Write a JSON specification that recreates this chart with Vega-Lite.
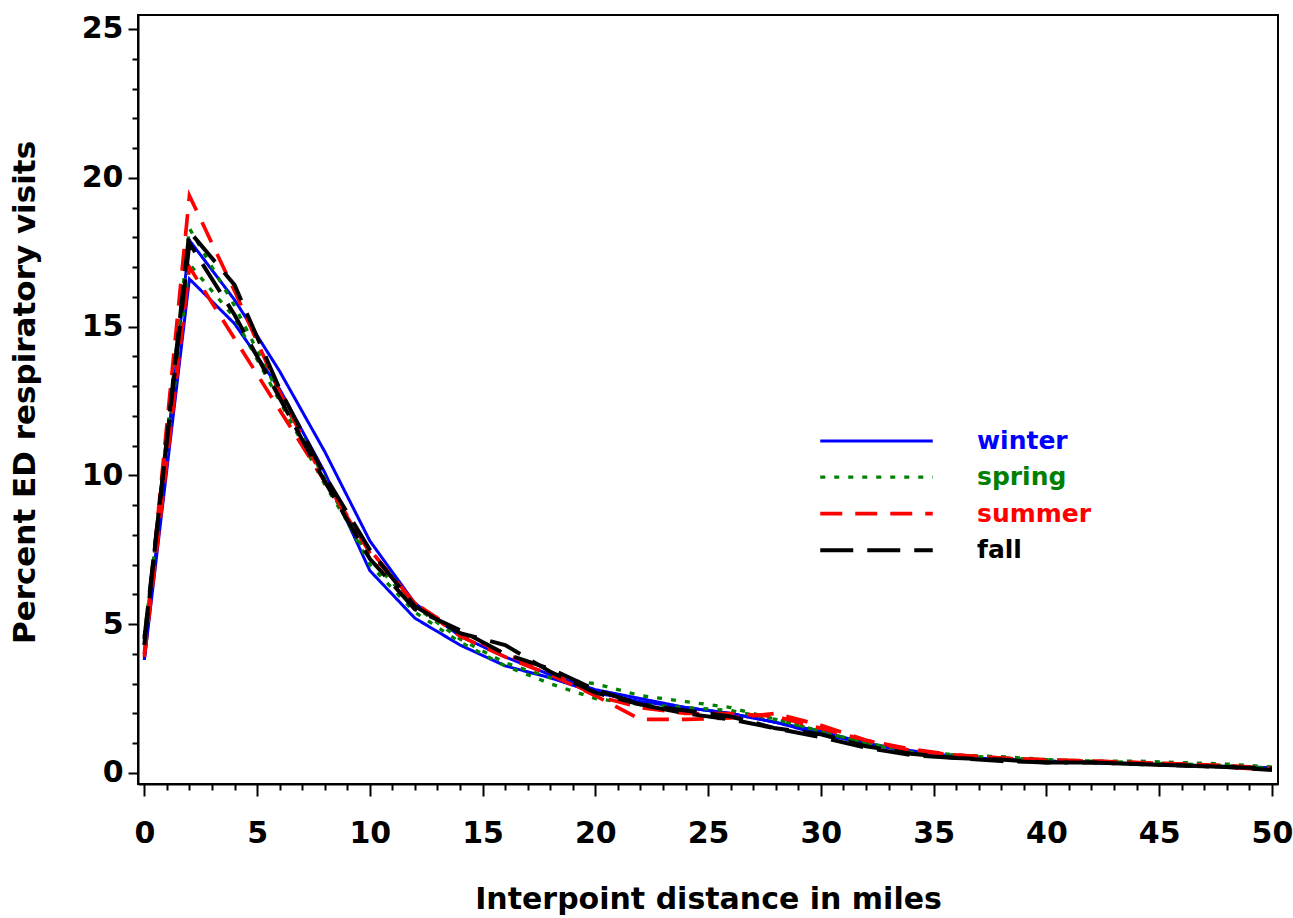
{
  "$schema": "https://vega.github.io/schema/vega-lite/v6.json",
  "width": 1140,
  "height": 769,
  "autosize": {"type": "none"},
  "padding": {"left": 138, "top": 15, "right": 15, "bottom": 134},
  "background": "white",
  "config": {
    "font": "DejaVu Sans",
    "view": {"stroke": "black", "strokeWidth": 2},
    "axis": {"grid": false}
  },
  "data": {"values": [
    {"season":"winter","yr":"A","d":0,"v":3.8},{"season":"winter","yr":"A","d":2,"v":17.9},{"season":"winter","yr":"A","d":4,"v":15.9},{"season":"winter","yr":"A","d":6,"v":13.5},{"season":"winter","yr":"A","d":8,"v":10.8},{"season":"winter","yr":"A","d":10,"v":7.8},{"season":"winter","yr":"A","d":12,"v":5.7},{"season":"winter","yr":"A","d":14,"v":4.6},{"season":"winter","yr":"A","d":16,"v":3.9},{"season":"winter","yr":"A","d":18,"v":3.3},{"season":"winter","yr":"A","d":20,"v":2.8},{"season":"winter","yr":"A","d":22,"v":2.5},{"season":"winter","yr":"A","d":24,"v":2.2},{"season":"winter","yr":"A","d":26,"v":2.0},{"season":"winter","yr":"A","d":28,"v":1.7},{"season":"winter","yr":"A","d":30,"v":1.3},{"season":"winter","yr":"A","d":32,"v":1.0},{"season":"winter","yr":"A","d":34,"v":0.7},{"season":"winter","yr":"A","d":36,"v":0.55},{"season":"winter","yr":"A","d":38,"v":0.45},{"season":"winter","yr":"A","d":40,"v":0.4},{"season":"winter","yr":"A","d":42,"v":0.35},{"season":"winter","yr":"A","d":44,"v":0.3},{"season":"winter","yr":"A","d":46,"v":0.28},{"season":"winter","yr":"A","d":48,"v":0.22},{"season":"winter","yr":"A","d":50,"v":0.18},
    {"season":"winter","yr":"B","d":0,"v":3.8},{"season":"winter","yr":"B","d":2,"v":16.6},{"season":"winter","yr":"B","d":4,"v":15.1},{"season":"winter","yr":"B","d":6,"v":12.9},{"season":"winter","yr":"B","d":8,"v":10.1},{"season":"winter","yr":"B","d":10,"v":6.8},{"season":"winter","yr":"B","d":12,"v":5.2},{"season":"winter","yr":"B","d":14,"v":4.3},{"season":"winter","yr":"B","d":16,"v":3.6},{"season":"winter","yr":"B","d":18,"v":3.2},{"season":"winter","yr":"B","d":20,"v":2.7},{"season":"winter","yr":"B","d":22,"v":2.4},{"season":"winter","yr":"B","d":24,"v":2.2},{"season":"winter","yr":"B","d":26,"v":2.0},{"season":"winter","yr":"B","d":28,"v":1.7},{"season":"winter","yr":"B","d":30,"v":1.4},{"season":"winter","yr":"B","d":32,"v":1.0},{"season":"winter","yr":"B","d":34,"v":0.75},{"season":"winter","yr":"B","d":36,"v":0.55},{"season":"winter","yr":"B","d":38,"v":0.45},{"season":"winter","yr":"B","d":40,"v":0.4},{"season":"winter","yr":"B","d":42,"v":0.35},{"season":"winter","yr":"B","d":44,"v":0.32},{"season":"winter","yr":"B","d":46,"v":0.25},{"season":"winter","yr":"B","d":48,"v":0.2},{"season":"winter","yr":"B","d":50,"v":0.15},
    {"season":"spring","yr":"A","d":0,"v":4.3},{"season":"spring","yr":"A","d":2,"v":18.3},{"season":"spring","yr":"A","d":4,"v":15.7},{"season":"spring","yr":"A","d":6,"v":12.7},{"season":"spring","yr":"A","d":8,"v":9.9},{"season":"spring","yr":"A","d":10,"v":7.0},{"season":"spring","yr":"A","d":12,"v":5.4},{"season":"spring","yr":"A","d":14,"v":4.4},{"season":"spring","yr":"A","d":16,"v":3.6},{"season":"spring","yr":"A","d":18,"v":3.0},{"season":"spring","yr":"A","d":20,"v":2.5},{"season":"spring","yr":"A","d":22,"v":2.3},{"season":"spring","yr":"A","d":24,"v":2.2},{"season":"spring","yr":"A","d":26,"v":2.1},{"season":"spring","yr":"A","d":28,"v":1.8},{"season":"spring","yr":"A","d":30,"v":1.4},{"season":"spring","yr":"A","d":32,"v":1.0},{"season":"spring","yr":"A","d":34,"v":0.7},{"season":"spring","yr":"A","d":36,"v":0.6},{"season":"spring","yr":"A","d":38,"v":0.5},{"season":"spring","yr":"A","d":40,"v":0.45},{"season":"spring","yr":"A","d":42,"v":0.4},{"season":"spring","yr":"A","d":44,"v":0.35},{"season":"spring","yr":"A","d":46,"v":0.3},{"season":"spring","yr":"A","d":48,"v":0.25},{"season":"spring","yr":"A","d":50,"v":0.15},
    {"season":"spring","yr":"B","d":0,"v":4.6},{"season":"spring","yr":"B","d":2,"v":17.1},{"season":"spring","yr":"B","d":4,"v":15.3},{"season":"spring","yr":"B","d":6,"v":12.5},{"season":"spring","yr":"B","d":8,"v":9.7},{"season":"spring","yr":"B","d":10,"v":7.2},{"season":"spring","yr":"B","d":12,"v":5.6},{"season":"spring","yr":"B","d":14,"v":4.5},{"season":"spring","yr":"B","d":16,"v":3.7},{"season":"spring","yr":"B","d":18,"v":3.2},{"season":"spring","yr":"B","d":20,"v":3.0},{"season":"spring","yr":"B","d":22,"v":2.6},{"season":"spring","yr":"B","d":24,"v":2.4},{"season":"spring","yr":"B","d":26,"v":2.2},{"season":"spring","yr":"B","d":28,"v":1.8},{"season":"spring","yr":"B","d":30,"v":1.4},{"season":"spring","yr":"B","d":32,"v":1.0},{"season":"spring","yr":"B","d":34,"v":0.75},{"season":"spring","yr":"B","d":36,"v":0.6},{"season":"spring","yr":"B","d":38,"v":0.55},{"season":"spring","yr":"B","d":40,"v":0.45},{"season":"spring","yr":"B","d":42,"v":0.4},{"season":"spring","yr":"B","d":44,"v":0.4},{"season":"spring","yr":"B","d":46,"v":0.35},{"season":"spring","yr":"B","d":48,"v":0.3},{"season":"spring","yr":"B","d":50,"v":0.2},
    {"season":"summer","yr":"A","d":0,"v":4.0},{"season":"summer","yr":"A","d":2,"v":19.4},{"season":"summer","yr":"A","d":4,"v":16.2},{"season":"summer","yr":"A","d":6,"v":12.8},{"season":"summer","yr":"A","d":8,"v":9.8},{"season":"summer","yr":"A","d":10,"v":7.4},{"season":"summer","yr":"A","d":12,"v":5.7},{"season":"summer","yr":"A","d":14,"v":4.6},{"season":"summer","yr":"A","d":16,"v":3.9},{"season":"summer","yr":"A","d":18,"v":3.3},{"season":"summer","yr":"A","d":20,"v":2.6},{"season":"summer","yr":"A","d":22,"v":1.8},{"season":"summer","yr":"A","d":24,"v":1.8},{"season":"summer","yr":"A","d":26,"v":1.85},{"season":"summer","yr":"A","d":28,"v":2.0},{"season":"summer","yr":"A","d":30,"v":1.6},{"season":"summer","yr":"A","d":32,"v":1.1},{"season":"summer","yr":"A","d":34,"v":0.75},{"season":"summer","yr":"A","d":36,"v":0.6},{"season":"summer","yr":"A","d":38,"v":0.5},{"season":"summer","yr":"A","d":40,"v":0.4},{"season":"summer","yr":"A","d":42,"v":0.4},{"season":"summer","yr":"A","d":44,"v":0.35},{"season":"summer","yr":"A","d":46,"v":0.3},{"season":"summer","yr":"A","d":48,"v":0.2},{"season":"summer","yr":"A","d":50,"v":0.1},
    {"season":"summer","yr":"B","d":0,"v":3.9},{"season":"summer","yr":"B","d":2,"v":17.0},{"season":"summer","yr":"B","d":4,"v":14.6},{"season":"summer","yr":"B","d":6,"v":12.2},{"season":"summer","yr":"B","d":8,"v":9.8},{"season":"summer","yr":"B","d":10,"v":7.5},{"season":"summer","yr":"B","d":12,"v":5.7},{"season":"summer","yr":"B","d":14,"v":4.7},{"season":"summer","yr":"B","d":16,"v":4.0},{"season":"summer","yr":"B","d":18,"v":3.4},{"season":"summer","yr":"B","d":20,"v":2.6},{"season":"summer","yr":"B","d":22,"v":2.2},{"season":"summer","yr":"B","d":24,"v":2.0},{"season":"summer","yr":"B","d":26,"v":2.0},{"season":"summer","yr":"B","d":28,"v":1.9},{"season":"summer","yr":"B","d":30,"v":1.5},{"season":"summer","yr":"B","d":32,"v":1.1},{"season":"summer","yr":"B","d":34,"v":0.8},{"season":"summer","yr":"B","d":36,"v":0.6},{"season":"summer","yr":"B","d":38,"v":0.5},{"season":"summer","yr":"B","d":40,"v":0.45},{"season":"summer","yr":"B","d":42,"v":0.4},{"season":"summer","yr":"B","d":44,"v":0.35},{"season":"summer","yr":"B","d":46,"v":0.3},{"season":"summer","yr":"B","d":48,"v":0.25},{"season":"summer","yr":"B","d":50,"v":0.15},
    {"season":"fall","yr":"A","d":0,"v":4.3},{"season":"fall","yr":"A","d":2,"v":18.2},{"season":"fall","yr":"A","d":4,"v":16.4},{"season":"fall","yr":"A","d":6,"v":12.9},{"season":"fall","yr":"A","d":8,"v":10.0},{"season":"fall","yr":"A","d":10,"v":7.5},{"season":"fall","yr":"A","d":12,"v":5.6},{"season":"fall","yr":"A","d":14,"v":4.7},{"season":"fall","yr":"A","d":16,"v":4.3},{"season":"fall","yr":"A","d":18,"v":3.4},{"season":"fall","yr":"A","d":20,"v":2.7},{"season":"fall","yr":"A","d":22,"v":2.3},{"season":"fall","yr":"A","d":24,"v":2.1},{"season":"fall","yr":"A","d":26,"v":1.9},{"season":"fall","yr":"A","d":28,"v":1.5},{"season":"fall","yr":"A","d":30,"v":1.3},{"season":"fall","yr":"A","d":32,"v":0.9},{"season":"fall","yr":"A","d":34,"v":0.65},{"season":"fall","yr":"A","d":36,"v":0.5},{"season":"fall","yr":"A","d":38,"v":0.45},{"season":"fall","yr":"A","d":40,"v":0.35},{"season":"fall","yr":"A","d":42,"v":0.35},{"season":"fall","yr":"A","d":44,"v":0.3},{"season":"fall","yr":"A","d":46,"v":0.25},{"season":"fall","yr":"A","d":48,"v":0.2},{"season":"fall","yr":"A","d":50,"v":0.15},
    {"season":"fall","yr":"B","d":0,"v":4.5},{"season":"fall","yr":"B","d":2,"v":17.8},{"season":"fall","yr":"B","d":4,"v":15.4},{"season":"fall","yr":"B","d":6,"v":12.6},{"season":"fall","yr":"B","d":8,"v":9.8},{"season":"fall","yr":"B","d":10,"v":7.2},{"season":"fall","yr":"B","d":12,"v":5.5},{"season":"fall","yr":"B","d":14,"v":4.8},{"season":"fall","yr":"B","d":16,"v":4.0},{"season":"fall","yr":"B","d":18,"v":3.5},{"season":"fall","yr":"B","d":20,"v":2.8},{"season":"fall","yr":"B","d":22,"v":2.3},{"season":"fall","yr":"B","d":24,"v":2.0},{"season":"fall","yr":"B","d":26,"v":1.8},{"season":"fall","yr":"B","d":28,"v":1.5},{"season":"fall","yr":"B","d":30,"v":1.2},{"season":"fall","yr":"B","d":32,"v":0.85},{"season":"fall","yr":"B","d":34,"v":0.6},{"season":"fall","yr":"B","d":36,"v":0.5},{"season":"fall","yr":"B","d":38,"v":0.4},{"season":"fall","yr":"B","d":40,"v":0.35},{"season":"fall","yr":"B","d":42,"v":0.35},{"season":"fall","yr":"B","d":44,"v":0.3},{"season":"fall","yr":"B","d":46,"v":0.25},{"season":"fall","yr":"B","d":48,"v":0.2},{"season":"fall","yr":"B","d":50,"v":0.1}
  ]},
  "mark": {"type": "line", "clip": true},
  "encoding": {
    "x": {
      "field": "d", "type": "quantitative",
      "scale": {"domain": [-0.28, 50.27], "nice": false, "zero": false},
      "axis": {
        "title": "Interpoint distance in miles",
        "values": [0,1,2,3,4,5,6,7,8,9,10,11,12,13,14,15,16,17,18,19,20,21,22,23,24,25,26,27,28,29,30,31,32,33,34,35,36,37,38,39,40,41,42,43,44,45,46,47,48,49,50],
        "labelExpr": "datum.value % 5 === 0 ? datum.label : ''",
        "tickSize": {"condition": {"test": "datum.value % 5 === 0", "value": 12}, "value": 6},
        "tickColor": "black", "tickWidth": 2,
        "domainColor": "black", "domainWidth": 2,
        "labelFont": "DejaVu Sans", "labelFontWeight": "bold", "labelFontSize": 30, "labelColor": "black",
        "labelPadding": 22, "labelFlush": false, "labelOverlap": false,
        "titleFont": "DejaVu Sans", "titleFontWeight": "bold", "titleFontSize": 30, "titleColor": "black",
        "titlePadding": 36
      }
    },
    "y": {
      "field": "v", "type": "quantitative",
      "scale": {"domain": [-0.37, 25.47], "nice": false, "zero": false},
      "axis": {
        "title": "Percent ED respiratory visits",
        "values": [0,1,2,3,4,5,6,7,8,9,10,11,12,13,14,15,16,17,18,19,20,21,22,23,24,25],
        "labelExpr": "datum.value % 5 === 0 ? datum.label : ''",
        "tickSize": {"condition": {"test": "datum.value % 5 === 0", "value": 10}, "value": 6},
        "tickColor": "black", "tickWidth": 2,
        "domainColor": "black", "domainWidth": 2,
        "labelFont": "DejaVu Sans", "labelFontWeight": "bold", "labelFontSize": 30, "labelColor": "black",
        "labelPadding": 5, "labelFlush": false, "labelOverlap": false,
        "titleFont": "DejaVu Sans", "titleFontWeight": "bold", "titleFontSize": 31, "titleColor": "black",
        "titlePadding": 40, "titleY": 377
      }
    },
    "color": {
      "field": "season", "type": "nominal",
      "scale": {"domain": ["winter","spring","summer","fall"], "range": ["#0000ff","#008000","#ff0000","#000000"]},
      "legend": {
        "title": null, "orient": "none", "legendX": 724, "legendY": 412,
        "symbolType": "M-4.5,0H4.5", "symbolSize": 625, "symbolStrokeWidth": 4,
        "labelFont": "DejaVu Sans", "labelFontWeight": "bold", "labelFontSize": 25,
        "labelOffset": 86, "rowPadding": 8.6,
        "encode": {
          "labels": {"update": {"fill": {"scale": "color", "field": "value"}}},
          "symbols": {"update": {"strokeWidth": {"value": 4}}}
        }
      }
    },
    "strokeDash": {
      "field": "season", "type": "nominal",
      "scale": {"domain": ["winter","spring","summer","fall"], "range": [[1,0],[5,9],[22,13],[33,14]]},
      "legend": {
        "title": null, "orient": "none", "legendX": 724, "legendY": 412,
        "symbolType": "M-4.5,0H4.5", "symbolSize": 625, "symbolStrokeWidth": 4,
        "labelFont": "DejaVu Sans", "labelFontWeight": "bold", "labelFontSize": 25,
        "labelOffset": 86, "rowPadding": 8.6,
        "encode": {
          "labels": {"update": {"fill": {"scale": "color", "field": "value"}}},
          "symbols": {"update": {"strokeWidth": {"value": 4}}}
        }
      }
    },
    "strokeWidth": {
      "field": "season", "type": "nominal",
      "scale": {"domain": ["winter","spring","summer","fall"], "range": [3, 4, 4.5, 4.5]},
      "legend": null
    },
    "detail": {"field": "yr", "type": "nominal"}
  }
}
